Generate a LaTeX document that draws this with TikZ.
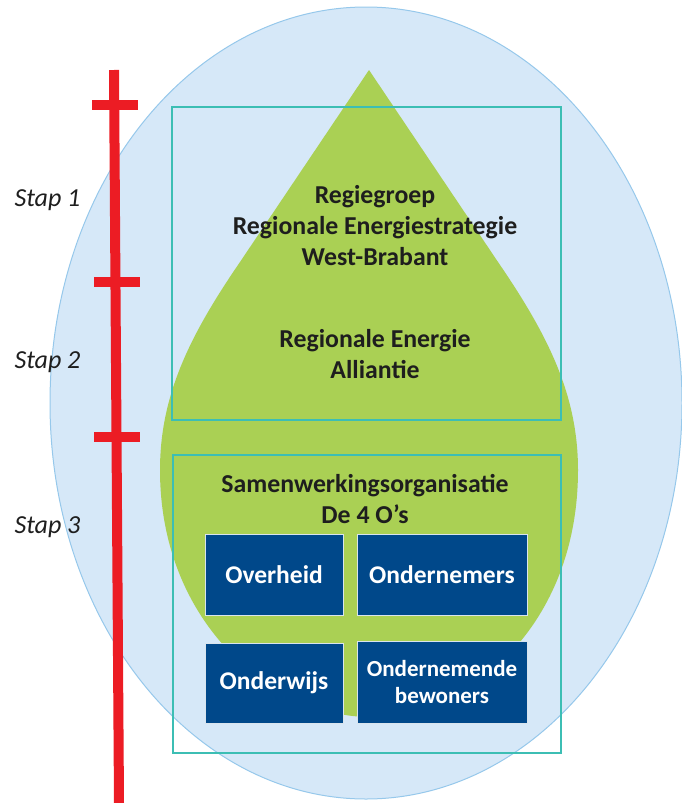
\documentclass[tikz,border=0pt]{standalone}
\usepackage{fontspec}
\setmainfont{Carlito}
\usetikzlibrary{positioning}

\definecolor{skyblue}{RGB}{214,232,248}
\definecolor{skyline}{RGB}{150,200,235}
\definecolor{dropgreen}{RGB}{170,208,84}
\definecolor{frameteal}{RGB}{60,190,180}
\definecolor{ored}{RGB}{236,28,36}
\definecolor{oblue}{RGB}{0,72,138}
\definecolor{inktext}{RGB}{30,30,30}

\begin{document}
\begin{tikzpicture}[
        x=1pt, y=-1pt,
        frame/.style={rectangle, draw=frameteal, line width=1.3pt, fill=none},
        party/.style={rectangle, draw=white!85!oblue, line width=0.8pt, fill=oblue, text=white, align=center, font=\fontsize{25.5}{27}\selectfont\bfseries},
        title/.style={align=center, text=inktext, font=\fontsize{25.8}{31}\selectfont\bfseries},
        phase/.style={anchor=west, text=inktext, font=\fontsize{26}{28}\selectfont\itshape},
        bar/.style={draw=ored, line width=10pt}
    ]
        \useasboundingbox (0,0) rectangle (682,803);

        % ----------------------------------------------------
        % BACKGROUND (ellipse and drop)
        % ----------------------------------------------------
        \draw[fill=skyblue, draw=skyline, line width=1pt] (366,403) ellipse [x radius=316, y radius=396];
        \fill[dropgreen] (369,70) -- (240,262)
            .. controls (190,335) and (160,395) .. (160,470)
            .. controls (160,625) and (275,717) .. (370,717)
            .. controls (470,717) and (578,625) .. (578,470)
            .. controls (578,395) and (548,335) .. (498,262) -- cycle;

        % ----------------------------------------------------
        % FRAMES
        % ----------------------------------------------------
        \node[frame, minimum width=389pt, minimum height=313pt] (alliance) at (366.5,263.5) {};
        \node[frame, minimum width=388pt, minimum height=298pt] (cooperation) at (367,604) {};

        \node[title] (board) at (375,226) {Regiegroep\\Regionale Energiestrategie\\West-Brabant};
        \node[title] (rea) at (375,354) {Regionale Energie\\Alliantie};
        \node[title] (coop) at (365,499) {Samenwerkingsorganisatie\\De 4 O’s};

        % ----------------------------------------------------
        % THE 4 O'S
        % ----------------------------------------------------
        \node[party, minimum width=138pt, minimum height=81pt] (government) at (274,574.5) {Overheid};
        \node[party, minimum width=170pt, minimum height=81pt] (business) at (442,574.5) {Ondernemers};
        \node[party, minimum width=138pt, minimum height=80pt] (education) at (274,683) {Onderwijs};
        \node[party, minimum width=170pt, minimum height=82pt, font=\fontsize{23}{27}\selectfont\bfseries] (residents) at (442,682) {Ondernemende\\bewoners};

        % ----------------------------------------------------
        % TIMELINE
        % ----------------------------------------------------
        \draw[bar] (114,70) -- (119,803);
        \draw[bar] (92,105) -- (138,105);
        \draw[bar] (94,282) -- (140,282);
        \draw[bar] (94,437) -- (140,437);

        \node[phase] (step1) at (11,200) {Stap 1};
        \node[phase] (step2) at (11,362) {Stap 2};
        \node[phase] (step3) at (11,527) {Stap 3};

    \end{tikzpicture}
\end{document}
